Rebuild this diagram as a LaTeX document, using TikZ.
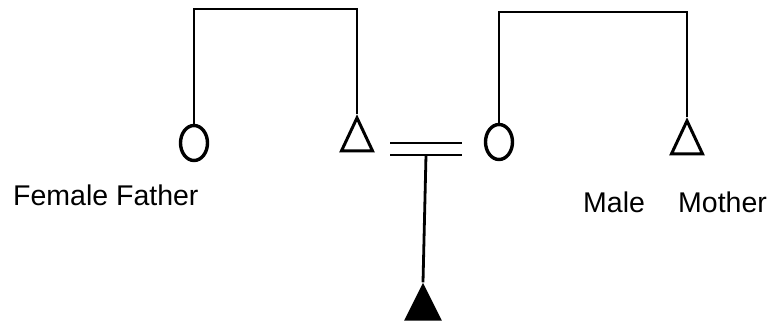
\documentclass[tikz,border=0pt]{standalone}
\usepackage{fontspec}
\setmainfont{Liberation Sans}
\usepackage{tikz}
\usetikzlibrary{shapes.geometric,calc}
\tikzset{
  kinline/.style={
    line width=2.8pt,
    line join=miter
  },
  femalesym/.style={
    ellipse,
    draw,
    line width=3.4pt,
    minimum width=27pt,
    minimum height=35pt,
    inner sep=0pt
  },
  malesym/.style={
    isosceles triangle,
    isosceles triangle stretches,
    shape border rotate=90,
    draw,
    line width=3pt,
    minimum width=31pt,
    minimum height=33pt,
    inner sep=0pt
  },
  kinlabel/.style={
    anchor=base west,
    inner sep=0pt,
    font=\fontsize{28.5}{32}\selectfont
  }
}

\begin{document}
\begin{tikzpicture}[x=1pt,y=-1pt]
  \useasboundingbox (0,0) rectangle (782,326);
  % sibling sets
  \node[femalesym] (fem1) at (194,143) {};
  \node[malesym] (mal1) at (357,141) {};
  \node[femalesym] (fem2) at (499,142) {};
  \node[malesym] (mal2) at (687,144) {};
  \node[malesym, fill=black, minimum width=33pt] (son) at (423,309) {};
  \coordinate (sibL) at (275,9);
  \coordinate (sibR) at (595,12);
  \draw[kinline] (fem1.north) |- (sibL) -| (mal1.apex);
  \draw[kinline] (fem2.north) |- (sibR) -| (mal2.apex);
  % marriage
  \coordinate (mA) at (390,143);
  \coordinate (mB) at (462,143);
  \coordinate (mC) at (390,155);
  \coordinate (mD) at (462,155);
  \draw[kinline] (mA) -- (mB);
  \draw[kinline] (mC) -- (mD);
  \draw[kinline] ($(mC)!0.5!(mD)$) -- (son.apex);
  % labels
  \node[kinlabel] (lfem) at (13,205) {Female Father};
  \node[kinlabel] (lmale) at (583,212) {Male};
  \node[kinlabel] (lmoth) at (678,212) {Mother};
\end{tikzpicture}
\end{document}
